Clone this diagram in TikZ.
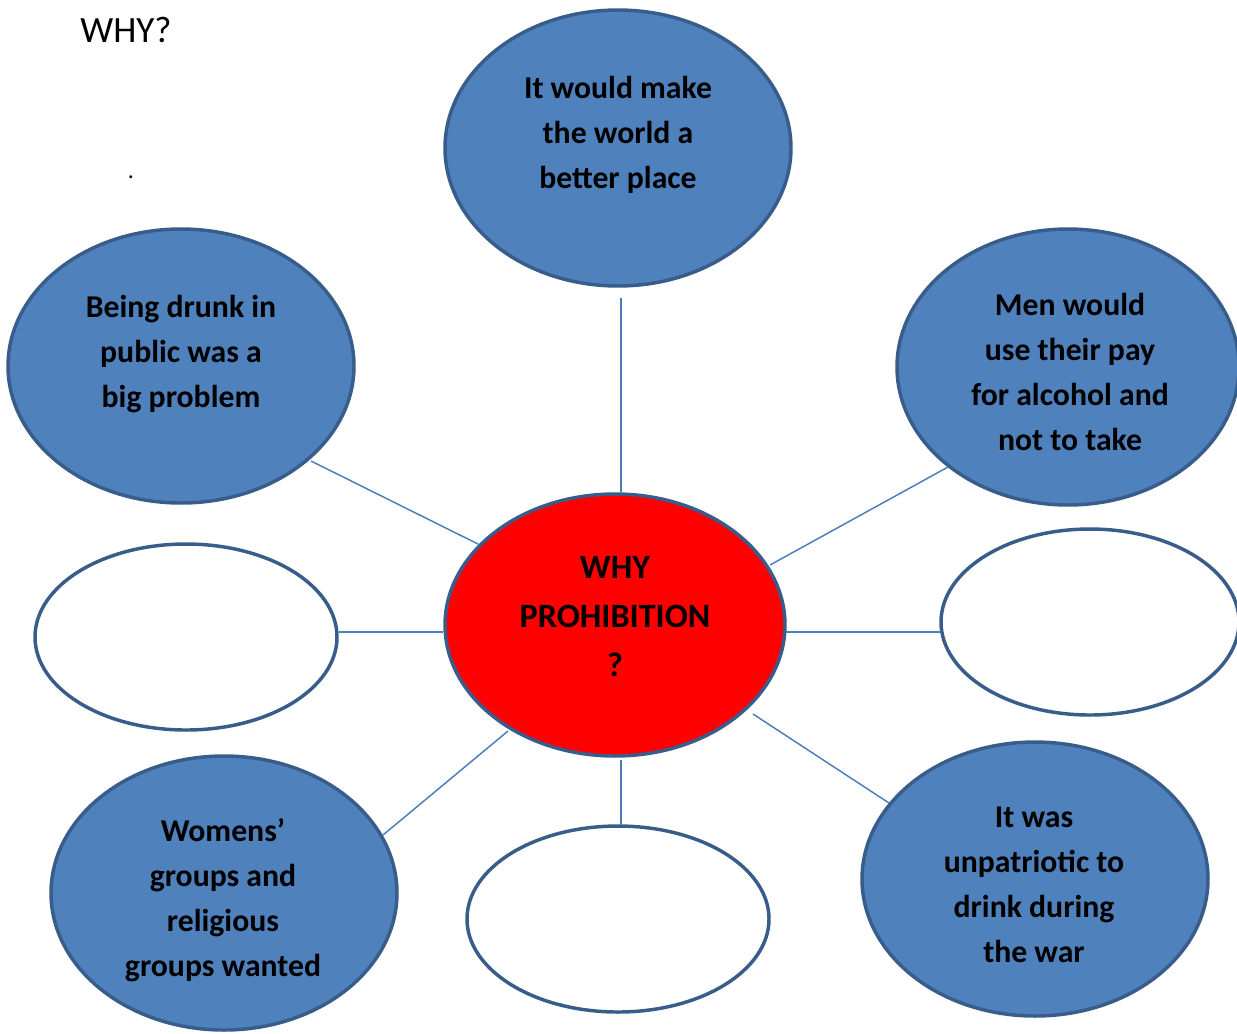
\documentclass[tikz,border=0pt]{standalone}
\usepackage{fontspec}
\setmainfont{Carlito}
\usetikzlibrary{shapes.geometric}
\definecolor{ovalfill}{HTML}{4F81BD}
\definecolor{ovalline}{HTML}{385D8A}
\definecolor{linkcol}{HTML}{4A7EBB}
\definecolor{hubred}{HTML}{FF0000}
\tikzset{
  oval/.style={ellipse, draw=ovalline, line width=2.6pt, fill=ovalfill, inner sep=0pt},
  emptyoval/.style={ellipse, draw=ovalline, line width=2.6pt, fill=white, inner sep=0pt},
  hub/.style={ellipse, draw=ovalline, line width=2.6pt, fill=hubred, inner sep=0pt},
  ovaltext/.style={align=center, inner sep=0pt, font=\bfseries\fontsize{23.8}{33.75}\selectfont},
  hubtext/.style={align=center, inner sep=0pt, font=\bfseries\fontsize{25.6}{36.75}\selectfont},
  link/.style={draw=linkcol, line width=1.1pt}
}
\begin{document}
\begin{tikzpicture}[x=0.75pt, y=-0.75pt]
\useasboundingbox (0,0) rectangle (1237,1033);
% title
\node[anchor=base west, inner sep=0pt, font=\fontsize{27.8}{32}\selectfont] (title) at (80,42) {WHY?};
\node[inner sep=0pt, font=\fontsize{18}{20}\selectfont] (dot) at (131,177) {.};
% ovals
\node[oval, minimum width={346*0.75pt}, minimum height={276*0.75pt}] (top) at (618,148) {};
\node[oval, minimum width={346*0.75pt}, minimum height={274*0.75pt}] (ul) at (181,366) {};
\node[oval, minimum width={342*0.75pt}, minimum height={276*0.75pt}] (ur) at (1068,367) {};
\node[hub, minimum width={340*0.75pt}, minimum height={262*0.75pt}] (hub) at (615,625) {};
\node[emptyoval, minimum width={302*0.75pt}, minimum height={186*0.75pt}] (ml) at (186,637) {};
\node[emptyoval, minimum width={298*0.75pt}, minimum height={186*0.75pt}] (mr) at (1090,622) {};
\node[oval, minimum width={346*0.75pt}, minimum height={274*0.75pt}] (bl) at (224,893) {};
\node[emptyoval, minimum width={302*0.75pt}, minimum height={186*0.75pt}] (bm) at (618,919) {};
\node[oval, minimum width={346*0.75pt}, minimum height={274*0.75pt}] (br) at (1035,879) {};
% texts
\node[ovaltext] (toptext) at (618,135) {It would make\\the world a\\better place};
\node[ovaltext] (ultext) at (181,354) {Being drunk in\\public was a\\big problem};
\node[ovaltext] (urtext) at (1070,372) {Men would\\use their pay\\for alcohol and\\not to take};
\node[hubtext] (hubtext) at (615,617) {WHY\\PROHIBITION\\?};
\node[ovaltext] (bltext) at (223,900) {Womens’\\groups and\\religious\\groups wanted};
\node[ovaltext] (brtext) at (1034,885) {It was\\unpatriotic to\\drink during\\the war};
% connector ends
\coordinate (topA) at (621,298); \coordinate (topB) at (621,492);
\coordinate (ulA) at (311,461);  \coordinate (ulB) at (478,544);
\coordinate (urA) at (948,467);  \coordinate (urB) at (770,565);
\coordinate (mlA) at (339,632);  \coordinate (mlB) at (443,632);
\coordinate (mrA) at (941,632);  \coordinate (mrB) at (786,632);
\coordinate (blA) at (383,835);  \coordinate (blB) at (508,731);
\coordinate (bmA) at (621,825);  \coordinate (bmB) at (621,760);
\coordinate (brA) at (889,803);  \coordinate (brB) at (753,714);
\draw[link] (topA) -- (topB);
\draw[link] (ulA) -- (ulB);
\draw[link] (urA) -- (urB);
\draw[link] (mlA) -- (mlB);
\draw[link] (mrA) -- (mrB);
\draw[link] (blA) -- (blB);
\draw[link] (bmA) -- (bmB);
\draw[link] (brA) -- (brB);
\end{tikzpicture}
\end{document}
